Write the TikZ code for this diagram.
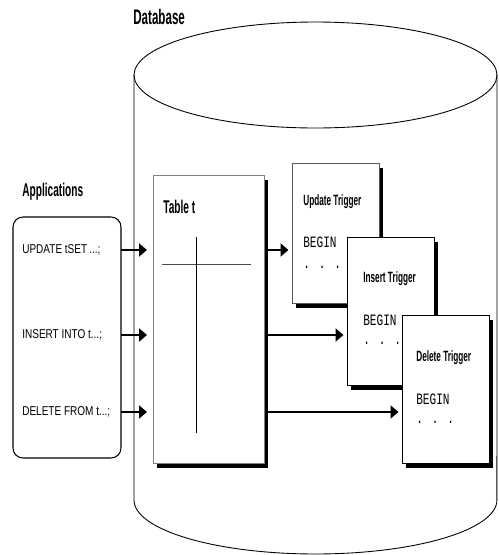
\documentclass[tikz,border=0pt]{standalone}
\usepackage{fontspec}
\setmainfont{Liberation Sans}
\newfontfamily\headfont[FakeStretch=0.55]{Liberation Sans}
\newfontfamily\sqlfont[FakeStretch=0.78]{Liberation Sans}
\newfontfamily\codefont[FakeStretch=0.7]{Liberation Mono}
\usetikzlibrary{arrows.meta,shadows}

\tikzset{
  head/.style={font=\headfont\bfseries\fontsize{10.5}{12}\selectfont, inner sep=0, anchor=west},
  trighead/.style={font=\headfont\bfseries\fontsize{8.5}{10}\selectfont, inner sep=0, anchor=west},
  sql/.style={font=\sqlfont\fontsize{7.3}{9}\selectfont, inner sep=0, anchor=west},
  code/.style={font=\codefont\fontsize{9}{10}\selectfont, inner sep=0, anchor=west},
  solidshadow/.style={drop shadow={shadow xshift=0.08cm, shadow yshift=-0.1cm, fill=black, opacity=1}},
  trigbox/.style={draw=black, fill=white, solidshadow, anchor=north west, inner sep=0,
    minimum width=1.74cm},
  arr/.style={-{Triangle[length=0.16cm,width=0.26cm]}, line width=1.6pt}
}

\begin{document}
\begin{tikzpicture}[x=0.02cm, y=-0.02cm]
  \useasboundingbox (0,0) rectangle (498,555);

  % database cylinder
  \draw[line width=0.5pt] (315.5,75) ellipse [x radius=3.63cm, y radius=1.06cm];
  \draw[line width=0.5pt] (134,75) -- (134,500)
    arc[start angle=180, end angle=360, x radius=3.63cm, y radius=1.08cm] -- (497,75);
  \node[head, font=\headfont\bfseries\fontsize{12}{14}\selectfont] (dblabel) at (133,17) {Database};

  % applications
  \node[head] (applabel) at (22,192) {Applications};
  \draw[rounded corners=0.2cm, line width=0.6pt] (13,217) rectangle (121,458);
  \coordinate (appright) at (121,335);
  \node[sql] (upd) at (22,250) {UPDATE tSET\,...;};
  \node[sql] (ins) at (22,335) {INSERT INTO t...;};
  \node[sql] (del) at (22,412) {DELETE FROM t...;};

  % table
  \node[draw=gray, fill=white, solidshadow, anchor=north west, inner sep=0,
    minimum width=2.22cm, minimum height=5.76cm] (tbl) at (153,175) {};
  \node[head] (tbllabel) at (163,207) {Table t};
  \draw[gray!60!black] (162,264) -- (251,264);
  \draw (196,237) -- (196,433);

  \foreach \r in {upd, ins, del}
    \draw[arr, shorten >=0.12cm] (appright |- \r) -- (tbl.west |- \r);

  % triggers
  \node[trigbox, draw=gray!70!black, minimum height=2.8cm] (utrig) at (292,163) {};
  \node[trighead] (uhead) at (303,202) {Update Trigger};
  \node[code] (ubegin) at (303,242) {BEGIN};
  \node[code] (udots) at (303,267) {. . .};

  \node[trigbox, minimum height=2.96cm] (itrig) at (347,237) {};
  \node[trighead] (ihead) at (363,279) {Insert Trigger};
  \node[code] (ibegin) at (363,320) {BEGIN};
  \node[code] (idots) at (363,343) {. . .};

  \node[trigbox, minimum height=2.96cm] (dtrig) at (402,315) {};
  \node[trighead] (dhead) at (416,358) {Delete Trigger};
  \node[code] (dbegin) at (416,399) {BEGIN};
  \node[code] (ddots) at (416,422) {. . .};

  \draw[arr, shorten >=0.07cm] (tbl.east |- upd) -- (utrig.west |- upd);
  \draw[arr, shorten >=0.07cm] (tbl.east |- ins) -- (itrig.west |- ins);
  \draw[arr, shorten >=0.07cm] (tbl.east |- del) -- (dtrig.west |- del);
\end{tikzpicture}
\end{document}
